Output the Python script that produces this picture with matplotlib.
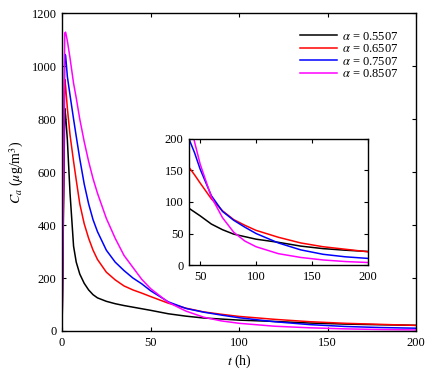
import matplotlib
matplotlib.use("Agg")
import matplotlib.pyplot as plt

# values
t = [0, 1.5, 2, 3, 4.5, 6.5, 8, 10, 12.5, 15, 17.5, 20, 25, 30, 35, 40, 45, 50,
     60, 70, 80, 90, 100, 120, 140, 160, 180, 200]

c_0_5507 = [0, 840, 815, 720, 520, 320, 260, 215, 180, 155, 137, 125, 112, 103,
            96, 90, 84, 78, 65, 56, 49, 45, 41, 36, 30, 26, 23.5, 21.5]
c_0_6507 = [0, 950, 925, 840, 740, 640, 570, 480, 405, 350, 305, 270, 222, 193,
            170, 155, 143, 130, 105, 86, 72, 63, 55, 44, 35, 29, 25, 21]
c_0_7507 = [0, 1045, 1040, 960, 890, 800, 735, 650, 555, 480, 420, 375, 305, 260,
            228, 200, 178, 152, 110, 85, 71, 60, 50, 35, 24, 17, 13, 10.5]
c_0_8507 = [0, 1125, 1128, 1095, 1030, 935, 880, 800, 715, 640, 575, 520, 425, 350,
            285, 240, 195, 160, 108, 75, 52, 38, 29, 18, 12, 8, 5.5, 4]

labels = ["0.5507", "0.6507", "0.7507", "0.8507"]
colors = ["black", "red", "blue", "magenta"]
series = [c_0_5507, c_0_6507, c_0_7507, c_0_8507]

plt.rcParams["font.family"] = ["Liberation Serif", "DejaVu Serif"]
plt.rcParams["mathtext.fontset"] = "stix"
plt.rcParams["font.size"] = 9


def style_ticks(ax):
    ax.tick_params(direction="in", top=True, right=True, length=3, width=0.8,
                   labelsize=9, pad=4)
    for s in ax.spines.values():
        s.set_linewidth(1.0)


fig = plt.figure(figsize=(4.34, 3.74), dpi=100)

ax = fig.add_axes([0.143, 0.115, 0.816, 0.850])
for c, lab, col in zip(series, labels, colors):
    ax.plot(t, c, color=col, lw=1.1, label=r"$\alpha$ = " + lab)
ax.set_xlim(0, 200)
ax.set_ylim(0, 1200)
ax.set_xticks([0, 50, 100, 150, 200])
ax.set_yticks([0, 200, 400, 600, 800, 1000, 1200])
style_ticks(ax)
ax.set_xlabel(r"$t$ (h)", fontsize=10, labelpad=3)
ax.set_ylabel(r"$C_a$ ($\mu$g/m$^3$)", fontsize=10, labelpad=4)
ax.legend(loc="upper right", frameon=False, fontsize=9, handlelength=3.0,
          handletextpad=0.4, labelspacing=0.05, borderaxespad=1.0)

ins = fig.add_axes([0.4355, 0.2914, 0.412, 0.337])
for c, col in zip(series, colors):
    ins.plot(t, c, color=col, lw=1.1)
ins.set_xlim(40, 200)
ins.set_ylim(0, 200)
ins.set_xticks([50, 100, 150, 200])
ins.set_yticks([0, 50, 100, 150, 200])
style_ticks(ins)

fig.savefig("out.png", dpi=100)
